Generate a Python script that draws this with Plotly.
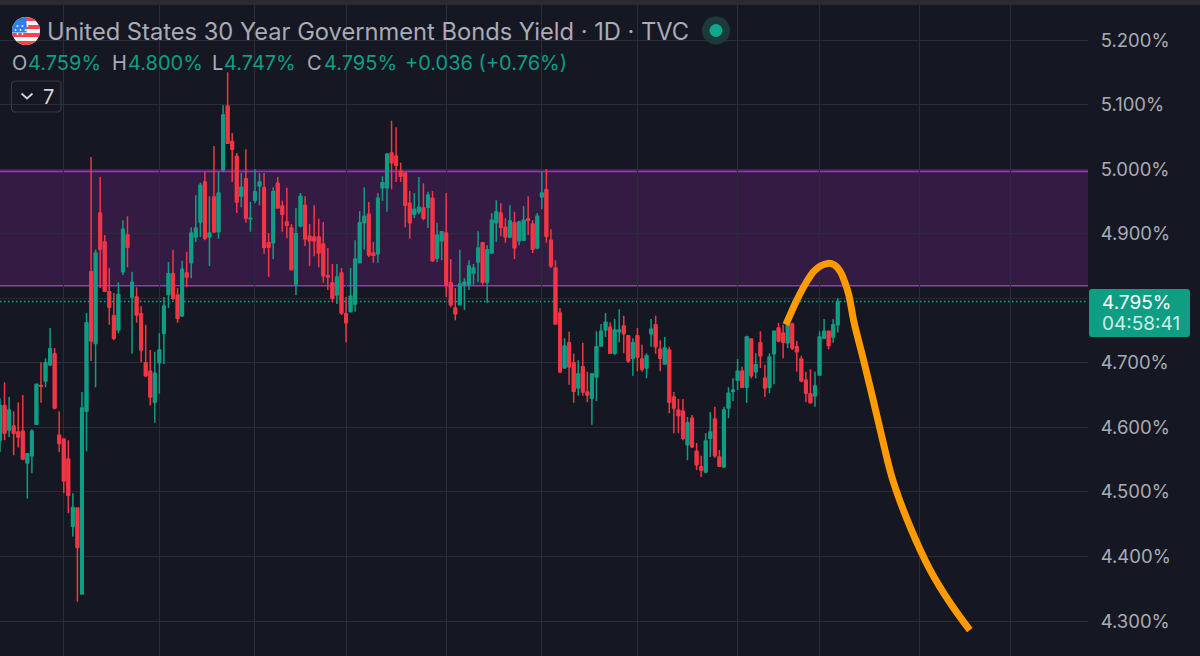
import numpy as np
import plotly.graph_objects as go

opens = [4.580,4.634,4.596,4.602,4.593,4.594,4.545,4.556,4.605,4.665,4.672,4.697,4.714,4.588,4.582,4.551,4.447,4.475,4.342,4.625,
4.841,4.730,4.932,4.887,4.810,4.773,4.751,4.841,4.898,4.802,4.802,4.776,4.700,4.687,4.639,4.700,4.746,4.806,4.838,4.805,
4.773,4.839,4.855,4.895,4.918,4.980,4.895,4.957,4.903,4.999,5.098,5.043,5.020,4.958,4.985,4.923,4.952,4.974,4.971,4.886,
4.886,4.978,4.943,4.918,4.909,4.822,4.912,4.944,4.896,4.895,4.895,4.884,4.835,4.824,4.805,4.839,4.776,4.779,4.791,4.855,
4.917,4.930,4.870,4.869,4.971,4.971,5.025,5.020,4.997,4.994,4.947,4.930,4.934,4.940,4.941,4.955,4.862,4.889,4.901,4.824,
4.785,4.790,4.821,4.821,4.839,4.856,4.886,4.825,4.870,4.917,4.932,4.910,4.895,4.917,4.889,4.890,4.923,4.915,4.878,4.957,
4.968,4.890,4.847,4.777,4.692,4.731,4.700,4.661,4.694,4.655,4.645,4.678,4.726,4.751,4.755,4.715,4.748,4.757,4.742,4.707,
4.742,4.706,4.692,4.745,4.759,4.721,4.698,4.720,4.647,4.627,4.625,4.573,4.614,4.563,4.539,4.531,4.583,4.613,4.554,4.539,
4.630,4.656,4.673,4.687,4.662,4.737,4.686,4.731,4.676,4.662,4.714,4.754,4.746,4.731,4.760,4.725,4.706,4.673,4.652,4.649,
4.681,4.738,4.749,4.740,4.759]
closes = [4.634,4.591,4.627,4.591,4.585,4.551,4.559,4.594,4.667,4.664,4.700,4.722,4.630,4.575,4.517,4.495,4.476,4.414,4.630,4.762,
4.734,4.870,4.876,4.811,4.786,4.738,4.806,4.907,4.879,4.825,4.774,4.720,4.680,4.647,4.684,4.720,4.788,4.838,4.800,4.769,
4.845,4.833,4.901,4.909,4.975,4.893,4.901,4.903,4.963,5.084,5.040,5.031,4.949,4.972,4.924,4.924,4.965,4.980,4.879,4.879,
4.965,4.940,4.930,4.913,4.844,4.900,4.958,4.892,4.889,4.889,4.870,4.835,4.833,4.800,4.833,4.777,4.762,4.803,4.861,4.917,
4.927,4.867,4.867,4.955,4.979,5.023,5.010,5.006,4.989,4.944,4.917,4.938,4.941,4.924,4.960,4.858,4.898,4.903,4.821,4.790,
4.776,4.822,4.825,4.850,4.847,4.878,4.825,4.875,4.921,4.934,4.910,4.895,4.920,4.878,4.918,4.921,4.921,4.876,4.927,4.963,
4.896,4.850,4.760,4.686,4.726,4.694,4.656,4.683,4.655,4.650,4.683,4.725,4.749,4.763,4.715,4.751,4.751,4.745,4.703,4.731,
4.709,4.690,4.711,4.752,4.725,4.707,4.723,4.639,4.630,4.618,4.583,4.607,4.570,4.542,4.534,4.579,4.593,4.556,4.540,4.627,
4.653,4.658,4.687,4.662,4.740,4.680,4.697,4.711,4.661,4.709,4.749,4.734,4.732,4.759,4.723,4.717,4.672,4.653,4.638,4.664,
4.740,4.749,4.727,4.759,4.795]
highs = [4.645,4.670,4.647,4.625,4.639,4.650,4.559,4.597,4.667,4.701,4.707,4.754,4.723,4.625,4.582,4.580,4.498,4.476,4.655,4.777,
5.019,4.875,4.988,4.898,4.847,4.808,4.825,4.921,4.927,4.841,4.817,4.788,4.759,4.720,4.717,4.746,4.802,4.856,4.875,4.816,
4.858,4.872,4.910,4.960,4.979,4.996,4.958,5.036,4.996,5.099,5.150,5.056,5.025,4.994,5.031,4.949,5.000,4.994,4.994,4.901,
4.972,4.988,4.951,4.971,4.915,4.940,4.963,4.958,4.915,4.944,4.923,4.918,4.878,4.853,4.853,4.847,4.802,4.847,4.890,4.935,
4.972,4.949,4.887,4.963,4.989,5.025,5.075,5.065,5.010,4.996,4.966,4.963,4.988,4.978,4.965,4.966,4.917,4.904,4.963,4.861,
4.816,4.875,4.831,4.859,4.853,4.904,4.887,4.882,4.932,4.952,4.947,4.924,4.944,4.934,4.920,4.943,4.958,4.921,4.932,4.997,
5.000,4.907,4.859,4.785,4.738,4.748,4.714,4.704,4.731,4.686,4.683,4.749,4.760,4.777,4.763,4.768,4.783,4.773,4.743,4.738,
4.754,4.728,4.715,4.768,4.773,4.735,4.740,4.725,4.655,4.644,4.644,4.616,4.619,4.576,4.556,4.591,4.624,4.632,4.565,4.632,
4.662,4.676,4.706,4.694,4.742,4.738,4.715,4.749,4.697,4.715,4.749,4.762,4.759,4.762,4.762,4.734,4.711,4.686,4.690,4.686,
4.749,4.768,4.749,4.768,4.800]
lows = [4.562,4.580,4.585,4.557,4.569,4.549,4.490,4.529,4.605,4.638,4.662,4.695,4.628,4.562,4.498,4.467,4.431,4.330,4.342,4.563,
4.703,4.662,4.816,4.810,4.759,4.735,4.746,4.836,4.848,4.714,4.762,4.701,4.678,4.634,4.607,4.652,4.698,4.785,4.797,4.762,
4.771,4.817,4.831,4.887,4.895,4.890,4.850,4.901,4.892,4.996,5.039,4.980,4.932,4.941,4.917,4.903,4.947,4.944,4.869,4.833,
4.861,4.940,4.903,4.893,4.844,4.805,4.910,4.881,4.850,4.865,4.848,4.824,4.813,4.794,4.791,4.774,4.732,4.779,4.779,4.855,
4.875,4.864,4.855,4.855,4.951,4.934,4.969,4.980,4.980,4.910,4.892,4.924,4.930,4.921,4.909,4.856,4.856,4.859,4.802,4.786,
4.766,4.790,4.782,4.813,4.821,4.825,4.821,4.793,4.870,4.887,4.896,4.886,4.893,4.861,4.882,4.889,4.898,4.870,4.876,4.938,
4.886,4.847,4.759,4.684,4.692,4.666,4.638,4.649,4.649,4.639,4.604,4.641,4.726,4.740,4.715,4.712,4.732,4.715,4.700,4.680,
4.687,4.686,4.676,4.725,4.714,4.687,4.697,4.622,4.591,4.591,4.580,4.549,4.568,4.534,4.523,4.529,4.554,4.553,4.539,4.537,
4.614,4.641,4.658,4.662,4.638,4.676,4.676,4.692,4.647,4.653,4.667,4.732,4.707,4.723,4.720,4.686,4.670,4.639,4.638,4.632,
4.680,4.738,4.721,4.731,4.747]

path_index = [172.6,175.0,177.2,178.8,180.2,181.8,183.2,184.5,185.5,186.4,187.6,189.5,191.7,193.9,196.1,199.9,204.3,208.7,213.0]
path_yield = [4.759,4.797,4.826,4.842,4.850,4.854,4.852,4.842,4.826,4.806,4.762,4.709,4.645,4.579,4.518,4.446,4.379,4.328,4.286]

y_ticks = [5.2,5.1,5.0,4.9,4.8,4.7,4.6,4.5,4.4,4.3]
y_tick_labels = ["5.200%","5.100%","5.000%","4.900%","","4.700%","4.600%","4.500%","4.400%","4.300%"]
x_grid = [14,35,56,76,98,119,140,162,180,202,222]
band_low, band_high = 4.8195, 4.9965
last_price = 4.795

title_text = "United States 30 Year Government Bonds Yield · 1D · TVC"
ohlc_labels = [("O","4.759%",12,28),("H","4.800%",112,128),("L","4.747%",212,224),("C","4.795%",307,324)]
change_text = "+0.036 (+0.76%)"

W,H = 1200,656
BG = "#151822"; GRID = "#2a2d37"; TXT = "#a9abb5"; UP = "#0f9d84"; DOWN = "#f23645"
FONT = "Inter"
PLOT_R = 1088

def px(x): return x/W
def py(y): return 1-y/H

xs = list(range(len(opens)))
o = np.array(opens); c = np.array(closes)
fig = go.Figure()
fig.add_trace(go.Bar(x=xs, base=np.minimum(o,c).tolist(), y=np.abs(c-o).tolist(), width=0.9,
    marker=dict(color=[UP if b>=a else DOWN for a,b in zip(opens,closes)], line=dict(width=0)),
    showlegend=False, hoverinfo="skip"))
fig.add_trace(go.Candlestick(x=xs, open=opens, high=highs, low=lows, close=closes,
    increasing=dict(line=dict(color=UP,width=1.5), fillcolor=UP),
    decreasing=dict(line=dict(color=DOWN,width=1.5), fillcolor=DOWN),
    whiskerwidth=0, showlegend=False, hoverinfo="skip"))
fig.add_trace(go.Scatter(x=path_index, y=path_yield, mode="lines",
    line=dict(color="#ff9a00", width=7, shape="spline", smoothing=1.0), showlegend=False, hoverinfo="skip"))

shapes = []
shapes.append(dict(type="rect", xref="paper", yref="y", x0=0, x1=px(PLOT_R), y0=band_low, y1=band_high,
    fillcolor="rgba(156,39,176,0.24)", line=dict(width=0), layer="below"))
for v in (band_low, band_high):
    shapes.append(dict(type="line", xref="paper", yref="y", x0=0, x1=px(PLOT_R), y0=v, y1=v,
        line=dict(color="#a030bd", width=1.6), layer="below"))
shapes.append(dict(type="line", xref="paper", yref="y", x0=0, x1=px(PLOT_R), y0=last_price, y1=last_price,
    line=dict(color="#17a88e", width=1.3, dash="1.5px,2.5px"), layer="below"))
shapes.append(dict(type="rect", xref="paper", yref="paper", x0=0, x1=1, y0=py(5), y1=1,
    fillcolor="#2b2b2d", line=dict(width=0), layer="above"))

def rrect(x0,y0,x1,y1,r):
    a,b,c,d = px(x0),px(x1),py(y0),py(y1)
    rx,ry = r/W,r/H
    return (f"M{a+rx},{c} L{b-rx},{c} Q{b},{c} {b},{c-ry} L{b},{d+ry} Q{b},{d} {b-rx},{d} "
            f"L{a+rx},{d} Q{a},{d} {a},{d+ry} L{a},{c-ry} Q{a},{c} {a+rx},{c} Z")
shapes.append(dict(type="path", xref="paper", yref="paper", path=rrect(1089,289,1190,337,3),
    fillcolor="#0f9d84", line=dict(width=0), layer="above"))
shapes.append(dict(type="path", xref="paper", yref="paper", path=rrect(11.5,81,61,112,4),
    fillcolor="rgba(0,0,0,0)", line=dict(color="#363943", width=1.2), layer="above"))
shapes.append(dict(type="path", xref="paper", yref="paper",
    path=f"M{px(21.5)},{py(93.5)} L{px(27)},{py(98.5)} L{px(32.5)},{py(93.5)}",
    line=dict(color="#d5d6da", width=1.8), layer="above"))
def circle(cx,cy,r,fill):
    return dict(type="circle", xref="paper", yref="paper", x0=px(cx-r), x1=px(cx+r), y0=py(cy+r), y1=py(cy-r),
        fillcolor=fill, line=dict(width=0), layer="above")
shapes.append(circle(716,30.5,14,"#1b3a3c"))
shapes.append(circle(716,30.5,6.5,"#0fa88a"))
fx,fy,fr = 26,31,14
shapes.append(circle(fx,fy,fr,"#f5f5f5"))
def chord(y0,y1,xmax=None,fill="#f0444f"):
    ys = np.linspace(y0,y1,10)
    right = np.sqrt(np.maximum(fr*fr-(ys-fy)**2,0))
    xr = fx+right if xmax is None else np.minimum(fx+right,xmax)
    xl = fx-right
    pts = list(zip(xr,ys))+list(zip(xl[::-1],ys[::-1]))
    p = "M"+" L".join(f"{px(a):.5f},{py(b):.5f}" for a,b in pts)+" Z"
    return dict(type="path", xref="paper", yref="paper", path=p, fillcolor=fill, line=dict(width=0), layer="above")
for a,b in ((17.2,21),(25,29),(33,37),(41,44.9)):
    shapes.append(chord(a,b))
shapes.append(chord(17,32.5,26.5,"#2d7ff0"))
for dx,dy in [(-8,-7),(-3,-7),(2,-7),(-10,-3),(-5,-3),(0,-3),(-8,1),(-3,1),(2,-11)]:
    shapes.append(circle(fx+dx-0.5,fy+dy+2,0.9,"#ffffff"))

def label(x,y,text,size,color,weight=400):
    return dict(xref="paper",yref="paper",x=px(x),y=py(y),text=text,showarrow=False,xanchor="left",yanchor="middle",
        align="left",font=dict(family=FONT,size=size,color=color,weight=weight))
anns = [label(45,31.5,title_text,23.7,TXT)]
for k,v,xk,xv in ohlc_labels:
    anns.append(label(xk-2,63,k,20,TXT))
    anns.append(label(xv-2,63,v,20,UP))
anns.append(label(403,63,change_text,20,UP))
anns.append(label(41,96.5,"7",20,"#d5d6da"))
anns.append(label(1100,302,"4.795%",19,"#ffffff"))
anns.append(label(1100,323,"04:58:41",19,"#c9eee6"))

fig.update_layout(width=W,height=H,margin=dict(l=0,r=0,t=0,b=0),paper_bgcolor=BG,plot_bgcolor=BG,
    shapes=shapes,annotations=anns,showlegend=False,
    xaxis=dict(domain=[0,PLOT_R/W],range=[0,PLOT_R/4.553],tickvals=x_grid,showticklabels=False,ticks="",
        showgrid=True,gridcolor=GRID,gridwidth=1,zeroline=False,rangeslider=dict(visible=False),showline=False),
    yaxis=dict(side="right",range=[4.2459,5.262],tickvals=y_ticks,ticktext=y_tick_labels,
        showgrid=True,gridcolor=GRID,gridwidth=1,zeroline=False,showline=False,ticks="outside",ticklen=8,
        tickcolor="rgba(0,0,0,0)",tickfont=dict(family=FONT,size=18.5,color=TXT)))
fig.write_html("out.html",config=dict(displayModeBar=False),
    post_script="document.body.style.margin='0';document.body.style.overflow='hidden';")
